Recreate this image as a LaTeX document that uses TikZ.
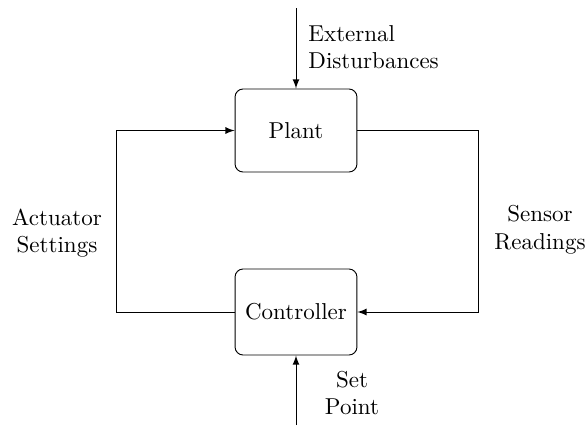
\documentclass[tikz,border=0pt]{standalone}
\usetikzlibrary{arrows}
\begin{document}
\begin{tikzpicture}[x=0.4348pt,y=-0.4348pt,
  block/.style={draw,rounded corners=3.5pt,minimum width=53pt,inner sep=0pt},
  flow/.style={-latex,line width=0.4pt},
  lbl/.style={align=center,inner sep=0pt}]
  \useasboundingbox (0,0) rectangle (588,431);
  % blocks
  \node[block,minimum height=36.1pt] (plant) at (296,130.5) {Plant};
  \node[block,minimum height=37.4pt] (ctrl) at (296,312) {Controller};
  % free ends of the input arrows and the loop columns
  \coordinate (dist) at (296,8);
  \coordinate (sp) at (296,425);
  \coordinate (rcol) at (478,0);
  \coordinate (lcol) at (116,0);
  % feedback loop
  \draw[flow] (plant.east) -| (rcol |- ctrl.east) -- (ctrl.east);
  \draw[flow] (ctrl.west) -| (lcol |- plant.west) -- (plant.west);
  % external inputs
  \draw[flow] (dist) -- (plant.north);
  \draw[flow] (sp) -- (ctrl.south);
  % labels
  \node[lbl,align=left,anchor=west] (dlbl) at (308,47) {External\\Disturbances};
  \node[lbl] (albl) at (57,233) {Actuator\\Settings};
  \node[lbl] (slbl) at (540,230) {Sensor\\Readings};
  \node[lbl] (splbl) at (352,393) {Set\\Point};
\end{tikzpicture}
\end{document}
